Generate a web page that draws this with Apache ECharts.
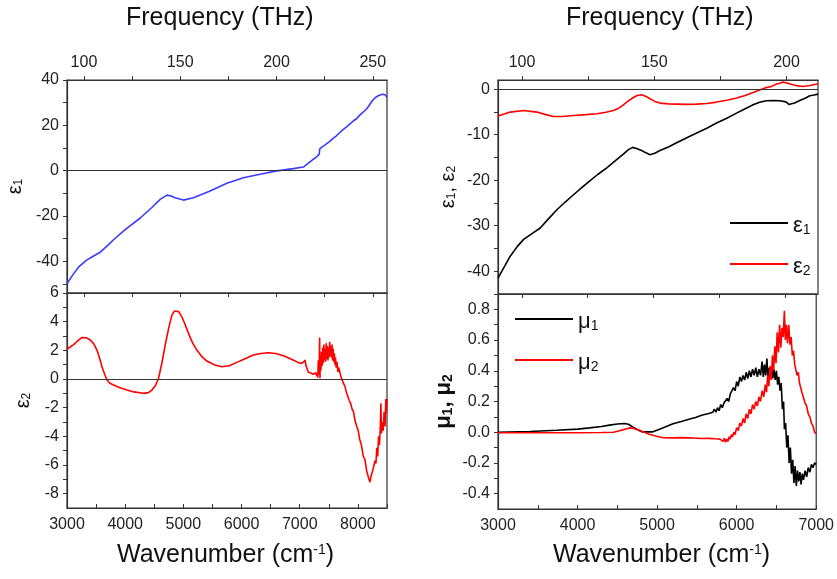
<!DOCTYPE html>
<html>
<head>
<meta charset="utf-8">
<script src="https://cdn.jsdelivr.net/npm/echarts@6/dist/echarts.min.js"></script>
<style>html,body{margin:0;background:#fff}#main{width:837px;height:579px}</style>
</head>
<body>
<div id="main"></div>
<script>
var FONT = "'Liberation Sans', Arial, sans-serif";

// left column: epsilon_1 (top) and epsilon_2 (bottom), 3000-8500 cm-1
var eps1LeftWn = [3000, 3100, 3200, 3343, 3450, 3572, 3700, 3800, 4000, 4259, 4450, 4602, 4717, 4790, 4860, 5002, 5174, 5460, 5747, 6032, 6319, 6605, 6891, 7063, 7149, 7220, 7292, 7310, 7320, 7335, 7345, 7360, 7380, 7400, 7430, 7464, 7500, 7530, 7560, 7590, 7620, 7650, 7680, 7710, 7740, 7770, 7800, 7830, 7864, 7890, 7920, 7950, 7980, 8010, 8036, 8070, 8100, 8130, 8151, 8180, 8200, 8230, 8265, 8290, 8310, 8330, 8350, 8370, 8390, 8410, 8430, 8450, 8470, 8485, 8500];
var eps1LeftVal = [-50, -46, -42.5, -39.4, -37.8, -36, -33, -30.5, -26, -20.9, -16.5, -12.7, -10.8, -11.2, -12, -13, -12, -9, -5.6, -3.1, -1.6, -0.1, 0.9, 1.6, 3.3, 4.8, 6.1, 6.5, 6.9, 7.3, 9.6, 9.9, 10.4, 10.6, 11.3, 11.7, 12.6, 12.9, 13.9, 14.2, 15.1, 15.5, 16.6, 16.9, 18.0, 18.3, 19.2, 19.6, 20.6, 20.4, 21.9, 22.3, 23.0, 23.6, 24.6, 25.1, 26.0, 26.6, 27.3, 28.3, 28.9, 30.2, 31.4, 31.6, 32.4, 32.0, 33.1, 32.6, 33.5, 32.8, 33.7, 33.0, 33.4, 32.6, 32.4];

var eps2LeftWn = [3000, 3060, 3114, 3180, 3257, 3330, 3400, 3460, 3515, 3560, 3601, 3650, 3687, 3740, 3800, 3900, 4030, 4150, 4315, 4400, 4459, 4520, 4573, 4630, 4688, 4750, 4803, 4850, 4877, 4920, 4974, 5030, 5088, 5160, 5232, 5310, 5404, 5530, 5661, 5790, 5919, 6060, 6204, 6330, 6462, 6590, 6719, 6860, 7006, 7060, 7092, 7110, 7149, 7200, 7235, 7280, 7290, 7300, 7310, 7320, 7328, 7335, 7342, 7348, 7355, 7365, 7375, 7385, 7395, 7405, 7415, 7425, 7435, 7445, 7455, 7465, 7475, 7485, 7495, 7505, 7515, 7525, 7535, 7545, 7555, 7565, 7575, 7585, 7595, 7605, 7615, 7625, 7640, 7655, 7670, 7693, 7710, 7730, 7750, 7775, 7800, 7825, 7850, 7875, 7900, 7925, 7950, 7979, 8005, 8030, 8060, 8093, 8120, 8150, 8170, 8190, 8208, 8225, 8245, 8260, 8280, 8294, 8310, 8325, 8340, 8355, 8370, 8385, 8395, 8405, 8420, 8435, 8450, 8466, 8480, 8490, 8500];
var eps2LeftVal = [2.09, 2.25, 2.4, 2.65, 2.9, 2.88, 2.72, 2.45, 2.02, 1.45, 0.86, 0.3, -0.07, -0.3, -0.42, -0.6, -0.77, -0.9, -1.0, -0.95, -0.77, -0.45, 0.05, 1.1, 2.37, 3.6, 4.46, 4.75, 4.81, 4.7, 4.34, 3.8, 3.18, 2.5, 2.02, 1.6, 1.25, 1.0, 0.86, 0.92, 1.16, 1.42, 1.67, 1.78, 1.83, 1.78, 1.62, 1.38, 1.09, 1.15, 1.32, 0.9, 0.47, 0.4, 0.33, 0.45, 0.2, 0.35, 0.1, 1.3, 0.3, 1.0, 2.9, 0.05, 1.5, 0.6, 1.9, 0.9, 2.2, 1.1, 2.4, 1.3, 2.1, 1.2, 2.5, 1.4, 2.3, 1.3, 2.2, 1.5, 2.6, 1.6, 2.3, 1.5, 2.4, 1.3, 2.1, 1.2, 1.8, 1.0, 1.5, 0.8, 1.2, 0.5, 0.8, 0.4, 0.3, -0.1, -0.2, -0.5, -0.9, -1.0, -1.5, -1.7, -2.1, -2.3, -2.9, -3.3, -3.6, -4.2, -4.6, -5.4, -5.6, -6.4, -6.5, -7.0, -7.2, -6.8, -6.9, -6.3, -6.4, -5.7, -5.9, -4.8, -5.4, -4.0, -4.6, -3.4, -1.7, -3.8, -3.0, -3.6, -2.3, -3.3, -1.4, -2.4, -1.4];

// right column: epsilon_1, epsilon_2 (top) and mu_1, mu_2 (bottom), 3000-7000 cm-1
var eps1RightWn = [3000, 3080, 3153, 3240, 3320, 3420, 3528, 3630, 3736, 3840, 3944, 4050, 4152, 4250, 4360, 4460, 4567, 4630, 4684, 4740, 4795, 4850, 4900, 4960, 5025, 5130, 5233, 5360, 5483, 5610, 5732, 5860, 5982, 6090, 6189, 6270, 6356, 6440, 6522, 6600, 6640, 6668, 6700, 6772, 6840, 6897, 6950, 7000];
var eps1RightVal = [-41.5, -39, -36.7, -34.6, -33.0, -31.8, -30.5, -28.5, -26.5, -24.8, -23.2, -21.6, -20.1, -18.7, -17.3, -15.8, -14.3, -13.3, -12.8, -13.1, -13.5, -14.0, -14.4, -14.1, -13.5, -12.7, -11.8, -10.7, -9.65, -8.6, -7.46, -6.4, -5.27, -4.3, -3.44, -2.9, -2.57, -2.5, -2.57, -2.8, -3.4, -3.22, -3.1, -2.49, -2.0, -1.47, -1.3, -1.1];

var eps2RightWn = [3000, 3153, 3320, 3486, 3600, 3694, 3800, 3944, 4100, 4235, 4350, 4442, 4510, 4567, 4630, 4692, 4740, 4796, 4850, 4900, 4960, 5025, 5130, 5233, 5360, 5483, 5610, 5732, 5860, 5982, 6090, 6189, 6270, 6356, 6420, 6481, 6520, 6564, 6600, 6640, 6689, 6750, 6814, 6900, 7000];
var eps2RightVal = [-5.9, -5.05, -4.69, -5.05, -5.6, -6.0, -6.0, -5.8, -5.6, -5.4, -5.1, -4.7, -4.2, -3.44, -2.6, -1.84, -1.4, -1.25, -1.6, -2.13, -2.7, -3.07, -3.25, -3.29, -3.35, -3.29, -3.15, -2.85, -2.45, -1.97, -1.4, -0.75, -0.2, 0.35, 0.6, 1.1, 1.3, 1.53, 1.4, 1.2, 0.94, 0.7, 0.57, 0.8, 1.16];

var mu1Wn = [3000, 3400, 3736, 4000, 4152, 4300, 4401, 4500, 4588, 4640, 4692, 4760, 4817, 4941, 5030, 5108, 5200, 5316, 5400, 5483, 5560, 5649, 5700, 5720, 5740, 5760, 5780, 5800, 5820, 5840, 5860, 5880, 5900, 5920, 5940, 5960, 5980, 6000, 6020, 6040, 6060, 6080, 6100, 6120, 6140, 6160, 6180, 6200, 6220, 6240, 6260, 6280, 6300, 6320, 6335, 6350, 6365, 6380, 6395, 6410, 6425, 6440, 6455, 6470, 6485, 6500, 6515, 6530, 6545, 6560, 6575, 6590, 6600, 6615, 6630, 6645, 6660, 6675, 6690, 6705, 6720, 6735, 6750, 6765, 6780, 6795, 6810, 6825, 6840, 6860, 6880, 6900, 6920, 6940, 6960, 6980, 7000];
var mu1Val = [0.0, 0.005, 0.013, 0.02, 0.028, 0.037, 0.046, 0.053, 0.057, 0.052, 0.035, 0.015, 0.002, 0.002, 0.02, 0.035, 0.055, 0.072, 0.085, 0.096, 0.11, 0.122, 0.13, 0.15, 0.13, 0.16, 0.14, 0.18, 0.16, 0.19, 0.18, 0.22, 0.2, 0.25, 0.24, 0.29, 0.27, 0.33, 0.3, 0.36, 0.33, 0.37, 0.34, 0.39, 0.35, 0.4, 0.36, 0.41, 0.37, 0.42, 0.36, 0.41, 0.37, 0.46, 0.36, 0.44, 0.37, 0.48, 0.35, 0.42, 0.36, 0.43, 0.35, 0.41, 0.34, 0.4, 0.31, 0.36, 0.27, 0.32, 0.15, 0.2, 0.02, 0.06, -0.1, -0.02, -0.2, -0.1, -0.27, -0.18, -0.33, -0.22, -0.35, -0.25, -0.32, -0.26, -0.34, -0.27, -0.31, -0.25, -0.29, -0.23, -0.26, -0.21, -0.23, -0.2, -0.21];

var mu2Wn = [3000, 3500, 4000, 4300, 4450, 4528, 4600, 4651, 4700, 4776, 4840, 4900, 4980, 5066, 5200, 5316, 5450, 5566, 5650, 5732, 5790, 5800, 5815, 5830, 5845, 5860, 5875, 5890, 5905, 5920, 5935, 5950, 5965, 5980, 6000, 6020, 6040, 6060, 6080, 6100, 6120, 6140, 6160, 6180, 6200, 6220, 6240, 6260, 6280, 6300, 6320, 6340, 6360, 6375, 6390, 6405, 6420, 6435, 6450, 6465, 6480, 6495, 6510, 6525, 6540, 6555, 6570, 6585, 6600, 6612, 6625, 6640, 6655, 6670, 6685, 6700, 6715, 6730, 6745, 6760, 6775, 6790, 6805, 6820, 6840, 6860, 6880, 6900, 6920, 6940, 6960, 6980, 7000];
var mu2Val = [-0.003, -0.003, -0.003, -0.002, 0.0, 0.01, 0.02, 0.028, 0.025, 0.013, 0.0, -0.013, -0.025, -0.035, -0.037, -0.035, -0.038, -0.041, -0.04, -0.043, -0.045, -0.045, -0.035, -0.06, -0.04, -0.065, -0.045, -0.06, -0.03, -0.045, -0.015, -0.03, 0.0, -0.015, 0.03, 0.01, 0.06, 0.04, 0.09, 0.06, 0.12, 0.09, 0.15, 0.12, 0.18, 0.15, 0.2, 0.17, 0.23, 0.2, 0.27, 0.23, 0.31, 0.26, 0.37, 0.3, 0.43, 0.34, 0.5, 0.4, 0.56, 0.45, 0.65, 0.52, 0.7, 0.55, 0.68, 0.62, 0.79, 0.6, 0.7, 0.58, 0.7, 0.57, 0.62, 0.5, 0.53, 0.44, 0.45, 0.37, 0.39, 0.32, 0.33, 0.26, 0.25, 0.19, 0.17, 0.12, 0.1, 0.06, 0.04, 0.0, -0.01];

// tick values
var wnLeftLabels = [3000, 4000, 5000, 6000, 7000, 8000];
var wnLeftTicks = [3000, 3500, 4000, 4500, 5000, 5500, 6000, 6500, 7000, 7500, 8000, 8500];
var wnRightLabels = [3000, 4000, 5000, 6000, 7000];
var wnRightTicks = [3000, 3500, 4000, 4500, 5000, 5500, 6000, 6500, 7000];
var freqLeftLabels = [100, 150, 200, 250];
var freqLeftTicks = [100, 125, 150, 175, 200, 225, 250];
var freqRightLabels = [100, 150, 200];
var freqRightTicks = [100, 125, 150, 175, 200];
var freqLeftRange = [91.2, 257.4];
var freqRightRange = [90.9, 211.9];
var eps1LeftLabels = [-40, -20, 0, 20, 40];
var eps1LeftTicks = [-50, -40, -30, -20, -10, 0, 10, 20, 30, 40];
var eps2LeftLabels = [-8, -6, -4, -2, 0, 2, 4, 6];
var eps2LeftTicks = [-8, -7, -6, -5, -4, -3, -2, -1, 0, 1, 2, 3, 4, 5, 6];
var epsRightLabels = [-40, -30, -20, -10, 0];
var epsRightTicks = [-45, -40, -35, -30, -25, -20, -15, -10, -5, 0];
var muLabels = [-0.4, -0.2, 0.0, 0.2, 0.4, 0.6, 0.8];
var muTicks = [-0.4, -0.3, -0.2, -0.1, 0.0, 0.1, 0.2, 0.3, 0.4, 0.5, 0.6, 0.7, 0.8];

function pairs(xs, ys) {
  return xs.map(function (x, i) { return [x, ys[i]]; });
}

var lineCol = '#333';
var labelStyle = { color: '#222', fontSize: 16, fontFamily: FONT };

function plain(v) {
  return String(v);
}

function xAx(grid, pos, min, max, labels, ticks, showLabels, showTicks, inside) {
  return {
    type: 'value', gridIndex: grid, position: pos, min: min, max: max,
    axisLine: { show: true, onZero: false, lineStyle: { color: lineCol, width: 1.2 } },
    axisTick: { show: showTicks, inside: inside, length: 4, customValues: ticks, lineStyle: { color: lineCol } },
    axisLabel: Object.assign({ show: showLabels, margin: 9, customValues: labels, formatter: plain }, labelStyle),
    splitLine: { show: false }
  };
}

function yAx(grid, min, max, labels, ticks, name, nameGap, fmt) {
  return {
    type: 'value', gridIndex: grid, position: 'left', min: min, max: max,
    axisLine: { show: true, onZero: false, lineStyle: { color: lineCol, width: 1.2 } },
    axisTick: { show: true, inside: false, length: 4, customValues: ticks, lineStyle: { color: lineCol } },
    axisLabel: Object.assign({ margin: 8, customValues: labels, formatter: fmt || plain }, labelStyle),
    splitLine: { show: false },
    name: name, nameLocation: 'middle', nameRotate: 90, nameGap: nameGap,
    nameTextStyle: {
      color: '#111', fontFamily: FONT,
      rich: {
        g: { fontSize: 20, lineHeight: 26, verticalAlign: 'bottom', fontFamily: FONT, color: '#111' },
        s: { fontSize: 12, lineHeight: 12, verticalAlign: 'bottom', fontFamily: FONT, color: '#111' },
        b: { fontSize: 22, lineHeight: 28, verticalAlign: 'bottom', fontWeight: 'bold', fontFamily: FONT, color: '#111' },
        bs: { fontSize: 14, lineHeight: 14, verticalAlign: 'bottom', fontWeight: 'bold', fontFamily: FONT, color: '#111' }
      }
    }
  };
}

function zeroLine() {
  return {
    silent: true, symbol: 'none', label: { show: false },
    lineStyle: { color: lineCol, type: 'solid', width: 1.2 },
    data: [{ yAxis: 0 }]
  };
}

function lineSeries(name, xi, yi, data, color, mark) {
  var s = {
    name: name, type: 'line', xAxisIndex: xi, yAxisIndex: yi, data: data,
    showSymbol: false, symbol: 'none', color: color,
    lineStyle: { color: color, width: 1.6 }, z: 3
  };
  if (mark) s.markLine = zeroLine();
  return s;
}

var legendNames = {
  'ε1': '{g|ε}{s|1}', 'ε2': '{g|ε}{s|2}',
  'μ1': '{g|μ}{s|1}', 'μ2': '{g|μ}{s|2}'
};
var legendRich = {
  g: { fontSize: 22, lineHeight: 28, verticalAlign: 'bottom', fontFamily: FONT, color: '#111' },
  s: { fontSize: 14, lineHeight: 14, verticalAlign: 'bottom', fontFamily: FONT, color: '#111' }
};

var titleRich = {
  a: { fontSize: 25, lineHeight: 30, verticalAlign: 'top', fontFamily: FONT, fill: '#111' },
  b: { fontSize: 14, lineHeight: 14, verticalAlign: 'top', fontFamily: FONT, fill: '#111' }
};

var chartDom = document.getElementById('main');
var myChart = echarts.init(chartDom);

var option = {
  animation: false,
  backgroundColor: '#fff',
  textStyle: { fontFamily: FONT },
  grid: [
    { left: 67, top: 80, width: 320, height: 213, show: true, borderColor: lineCol, borderWidth: 1.2 },
    { left: 67, top: 293, width: 320, height: 215, show: true, borderColor: lineCol, borderWidth: 1.2 },
    { left: 498, top: 80, width: 320, height: 214, show: true, borderColor: lineCol, borderWidth: 1.2 },
    { left: 498, top: 294, width: 320, height: 215, show: true, borderColor: lineCol, borderWidth: 1.2 }
  ],
  xAxis: [
    xAx(0, 'bottom', 3000, 8500, wnLeftLabels, wnLeftTicks, false, false, true),
    xAx(0, 'top', freqLeftRange[0], freqLeftRange[1], freqLeftLabels, freqLeftTicks, true, true, false),
    xAx(1, 'bottom', 3000, 8500, wnLeftLabels, wnLeftTicks, true, true, true),
    xAx(1, 'top', freqLeftRange[0], freqLeftRange[1], freqLeftLabels, freqLeftTicks, false, true, true),
    xAx(2, 'bottom', 3000, 7000, wnRightLabels, wnRightTicks, false, false, true),
    xAx(2, 'top', freqRightRange[0], freqRightRange[1], freqRightLabels, freqRightTicks, true, true, false),
    xAx(3, 'bottom', 3000, 7000, wnRightLabels, wnRightTicks, true, true, true),
    xAx(3, 'top', freqRightRange[0], freqRightRange[1], freqRightLabels, freqRightTicks, false, true, true)
  ],
  yAxis: [
    yAx(0, -54, 40, eps1LeftLabels, eps1LeftTicks, '{g|ε}{s|1}', 42),
    yAx(1, -9, 6, eps2LeftLabels, eps2LeftTicks, '{g|ε}{s|2}', 34),
    yAx(2, -45, 2, epsRightLabels, epsRightTicks, '{g|ε}{s|1}{g|, ε}{s|2}', 40),
    yAx(3, -0.5, 0.9, muLabels, muTicks, '{b|μ}{bs|1}{b|, μ}{bs|2}', 43, function (v) { return v.toFixed(1); })
  ],
  legend: [
    {
      data: ['ε1', 'ε2'], orient: 'vertical', left: 725, top: 210,
      icon: 'rect', itemWidth: 58, itemHeight: 2, itemGap: 19,
      formatter: function (n) { return legendNames[n]; },
      textStyle: { rich: legendRich }
    },
    {
      data: ['μ1', 'μ2'], orient: 'vertical', left: 510, top: 306,
      icon: 'rect', itemWidth: 58, itemHeight: 2, itemGap: 19,
      formatter: function (n) { return legendNames[n]; },
      textStyle: { rich: legendRich }
    }
  ],
  graphic: [
    { type: 'text', left: 126, top: 6, style: { text: 'Frequency (THz)', fontSize: 25, fontFamily: FONT, fill: '#111' } },
    { type: 'text', left: 566, top: 6, style: { text: 'Frequency (THz)', fontSize: 25, fontFamily: FONT, fill: '#111' } },
    { type: 'text', left: 117, top: 543, style: { text: '{a|Wavenumber (cm}{b|-1}{a|)}', fontFamily: FONT, fill: '#111', rich: titleRich } },
    { type: 'text', left: 553, top: 543, style: { text: '{a|Wavenumber (cm}{b|-1}{a|)}', fontFamily: FONT, fill: '#111', rich: titleRich } }
  ],
  series: [
    lineSeries('eps1-left', 0, 0, pairs(eps1LeftWn, eps1LeftVal), '#3b3bff', true),
    lineSeries('eps2-left', 2, 1, pairs(eps2LeftWn, eps2LeftVal), '#ff0000', true),
    lineSeries('ε1', 4, 2, pairs(eps1RightWn, eps1RightVal), '#000000', true),
    lineSeries('ε2', 4, 2, pairs(eps2RightWn, eps2RightVal), '#ff0000', false),
    lineSeries('μ1', 6, 3, pairs(mu1Wn, mu1Val), '#000000', false),
    lineSeries('μ2', 6, 3, pairs(mu2Wn, mu2Val), '#ff0000', false)
  ]
};

option && myChart.setOption(option);
</script>
</body>
</html>
